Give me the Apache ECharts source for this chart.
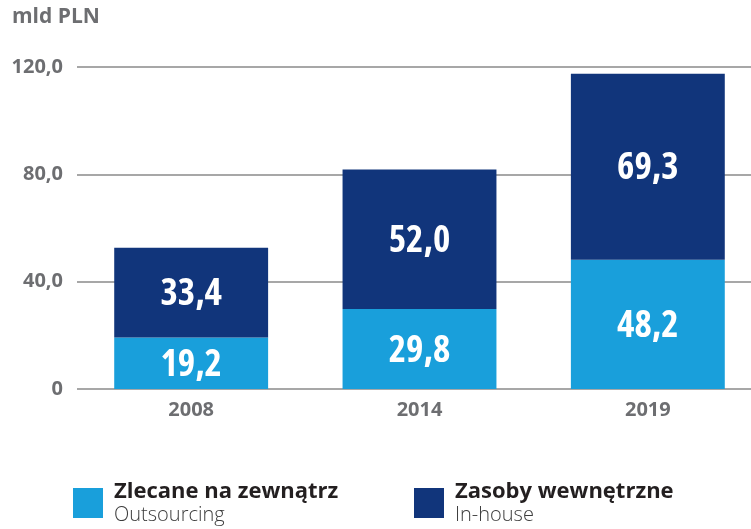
<!DOCTYPE html>
<html>
<head>
<meta charset="utf-8">
<script src="https://cdn.jsdelivr.net/npm/echarts@6/dist/echarts.min.js"></script>
<style>
  html, body { margin: 0; padding: 0; background: #fff; }
  #chart { width: 751px; height: 529px; }
</style>
</head>
<body>
<div id="chart"></div>
<script>
// data
const years = ['2008', '2014', '2019']
const outsourcing = [19.2, 29.8, 48.2]
const inHouse = [33.4, 52.0, 69.3]
const seriesNames = ['Zlecane na zewnątrz', 'Zasoby wewnętrzne']
const seriesSubs = ['Outsourcing', 'In-house']

const grey = '#6d6e71'
const fmt = (v) => (v === 0 ? '0' : v.toFixed(1).replace('.', ','))

const chart = echarts.init(document.getElementById('chart'))

// condensed Open Sans for the values inside the bars
const barLabel = {
  show: true,
  position: 'inside',
  offset: [0, 2],
  color: '#fff',
  fontStyle: 'condensed',
  fontFamily: 'Open Sans',
  fontWeight: 'bold',
  fontSize: 37,
  formatter: (p) => fmt(p.value),
}

const legendBase = (i, left) => ({
  data: [seriesNames[i]],
  left: left,
  top: 481,
  padding: 0,
  icon: 'rect',
  itemWidth: 30,
  itemHeight: 30,
  selectedMode: false,
  formatter: (name) => `{a|${name}}\n{b|${seriesSubs[i]}}`,
  textStyle: {
    padding: [0, 0, 0, 6],
    rich: {
      a: { fontFamily: 'Open Sans', fontWeight: 'bold', fontSize: 22, color: '#231f20', lineHeight: 24 },
      b: { fontFamily: 'Open Sans', fontWeight: 300, fontSize: 20, color: '#3c3c3c', lineHeight: 22 },
    },
  },
})

chart.setOption({
  animation: false,
  title: {
    text: 'mld PLN',
    left: 12,
    top: 7,
    padding: 0,
    textStyle: { fontFamily: 'Open Sans', fontWeight: 'bold', fontSize: 21, color: grey },
  },
  legend: [legendBase(0, 73), legendBase(1, 414)],
  grid: { left: 77, top: 67, width: 685, height: 322, outerBoundsMode: 'none', containLabel: false },
  xAxis: {
    type: 'category',
    data: years,
    axisLine: { show: false },
    axisTick: { show: false },
    axisLabel: {
      margin: 11,
      fontFamily: 'Open Sans',
      fontWeight: 'bold',
      fontSize: 20,
      color: grey,
    },
  },
  yAxis: {
    type: 'value',
    min: 0,
    max: 120,
    interval: 40,
    axisLine: { show: false },
    axisTick: { show: false },
    splitLine: { lineStyle: { color: '#a7a7a7', width: 2 } },
    axisLabel: {
      margin: 14,
      fontFamily: 'Open Sans',
      fontWeight: 'bold',
      fontSize: 20,
      color: grey,
      formatter: fmt,
    },
  },
  series: [
    {
      name: seriesNames[0],
      type: 'bar',
      stack: 'total',
      barWidth: '67.4%',
      data: outsourcing,
      itemStyle: { color: '#199fdb' },
      label: barLabel,
    },
    {
      name: seriesNames[1],
      type: 'bar',
      stack: 'total',
      data: inHouse,
      itemStyle: { color: '#11357b' },
      label: barLabel,
    },
  ],
})
</script>
</body>
</html>
